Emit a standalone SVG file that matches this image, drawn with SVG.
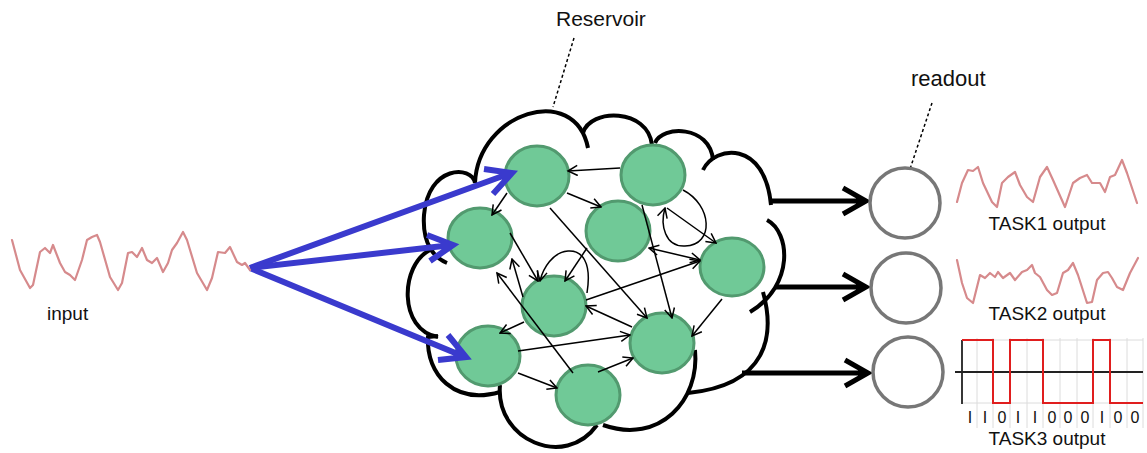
<svg xmlns="http://www.w3.org/2000/svg" width="1147" height="453" viewBox="0 0 1147 453">
<style>
.txt{font-family:"Liberation Sans",Arial,sans-serif;fill:#111}
.cloud{fill:none;stroke:#000;stroke-width:4;stroke-linecap:butt}
.node{fill:#70c997;stroke:#529a6f;stroke-width:3}
.edge{fill:none;stroke:#000;stroke-width:1.5}
.blue{fill:none;stroke:#3a3acd;stroke-width:6;stroke-linejoin:miter}
.thick{fill:none;stroke:#000;stroke-width:5}
.ro{fill:#fff;stroke:#777;stroke-width:3.5}
.wave{fill:none;stroke:#d68a8c;stroke-width:2.2;stroke-linejoin:round;stroke-linecap:round}
.dot{fill:none;stroke:#000;stroke-width:1.5;stroke-dasharray:3 2.5}
.grid{stroke:#dcdcdc;stroke-width:1}
</style>
<defs>
<marker id="arr" viewBox="0 0 12 12" refX="10.5" refY="6" markerWidth="12" markerHeight="12" markerUnits="userSpaceOnUse" orient="auto-start-reverse">
<path d="M1,1 L10.5,6 L1,11" fill="none" stroke="#000" stroke-width="1.5"/>
</marker>
</defs>
<rect width="1147" height="453" fill="#fff"/>

<g id="labels">
<text class="txt" x="556" y="26" font-size="21">Reservoir</text>
<text class="txt" x="911" y="86" font-size="22">readout</text>
<text class="txt" x="47" y="320" font-size="19">input</text>
<text class="txt" x="1047" y="230" font-size="19" text-anchor="middle">TASK1 output</text>
<text class="txt" x="1047" y="320" font-size="19" text-anchor="middle">TASK2 output</text>
<text class="txt" x="1047" y="445" font-size="19" text-anchor="middle">TASK3 output</text>
<path class="dot" d="M574,38 L553,107"/>
<path class="dot" d="M932,103 L909,172"/>
</g>

<g id="cloud">
<path class="cloud" d="M475,183 C478,112 575,82 588,148"/>
<path class="cloud" d="M583,133 C590,108 648,108 652,145"/>
<path class="cloud" d="M655,143 C662,125 710,125 713,160"/>
<path class="cloud" d="M703,170 C715,145 765,140 771,205"/>
<path class="cloud" d="M767,220 C790,232 795,285 750,312"/>
<path class="cloud" d="M763,292 C775,335 768,385 688,393"/>
<path class="cloud" d="M695,350 C700,400 660,445 603,425"/>
<path class="cloud" d="M500,385 C495,440 565,470 597,425"/>
<path class="cloud" d="M438,336 L428,337 C426,375 455,405 500,392"/>
<path class="cloud" d="M430,250 C400,265 398,330 438,337"/>
<path class="cloud" d="M475,183 C472,165 428,165 424,215 C422,245 435,258 447,263"/>
</g>

<g id="n1"><ellipse class="node" cx="537" cy="176" rx="32" ry="30"/></g>
<g id="n2"><ellipse class="node" cx="653" cy="175" rx="32" ry="30"/></g>
<g id="n3"><ellipse class="node" cx="480" cy="238" rx="32" ry="30"/></g>
<g id="n4"><ellipse class="node" cx="618" cy="231" rx="32" ry="30"/></g>
<g id="n5"><ellipse class="node" cx="732" cy="267" rx="32" ry="29"/></g>
<g id="n6"><ellipse class="node" cx="554" cy="306" rx="32" ry="30"/></g>
<g id="n7"><ellipse class="node" cx="488" cy="356" rx="32" ry="30"/></g>
<g id="n8"><ellipse class="node" cx="662" cy="343" rx="32" ry="30"/></g>
<g id="n9"><ellipse class="node" cx="588" cy="395" rx="32" ry="30"/></g>

<g id="connectors">
<path class="edge" marker-end="url(#arr)" d="M620,168 L568,171"/>
<path class="edge" marker-end="url(#arr)" d="M507,193 L492,215"/>
<path class="edge" marker-end="url(#arr)" d="M567,193 L601,207"/>
<path class="edge" marker-end="url(#arr)" d="M550,208 L647,318"/>
<path class="edge" marker-end="url(#arr)" d="M510,233 L538,281"/>
<path class="edge" marker-end="url(#arr)" d="M523,297 L512,259"/>
<path class="edge" marker-end="url(#arr)" d="M573,373 L497,273"/>
<path class="edge" marker-end="url(#arr)" d="M524,322 L500,333"/>
<path class="edge" marker-end="url(#arr)" d="M518,351 L630,335"/>
<path class="edge" marker-end="url(#arr)" d="M518,373 L557,388"/>
<path class="edge" marker-end="url(#arr)" d="M598,372 L633,358"/>
<path class="edge" marker-end="url(#arr)" d="M587,293 C592,262 582,250 568,251 C553,252 543,268 540,281"/>
<path class="edge" marker-end="url(#arr)" d="M587,248 L565,281"/>
<path class="edge" marker-end="url(#arr)" d="M586,300 L700,261"/>
<path class="edge" marker-end="url(#arr)" d="M632,327 L586,306"/>
<path class="edge" marker-end="url(#arr)" d="M642,205 L672,318"/>
<path class="edge" marker-start="url(#arr)" marker-end="url(#arr)" d="M649,248 L700,260"/>
<path class="edge" marker-end="url(#arr)" d="M667,208 L716,243"/>
<path class="edge" marker-end="url(#arr)" d="M683,190 C712,205 715,245 685,246 C665,247 660,225 665,208"/>
<path class="edge" marker-end="url(#arr)" d="M722,299 L692,336"/>
<path class="blue" d="M250,268 L511,173 M484,169 L512,173 L493,194"/>
<path class="blue" d="M250,268 L452,245 M427,235 L453,245 L430,261"/>
<path class="blue" d="M250,268 L465,357 M448,335 L466,357 L438,360"/>
<path class="thick" d="M772,201 L865,201 M843,188 L866,201 L843,214"/>
<path class="thick" d="M775,287 L865,287 M843,274 L866,287 L843,300"/>
<path class="thick" d="M742,373 L867,373 M845,360 L868,373 L845,386"/>
</g>

<g id="readout1"><circle class="ro" cx="905" cy="203" r="35"/></g>
<g id="readout2"><circle class="ro" cx="906" cy="288" r="35"/></g>
<g id="readout3"><circle class="ro" cx="908" cy="372" r="35"/></g>

<g id="signals">
<polyline class="wave" points="12,240 20,270 30,288 33,285 40,252 45,248 50,253 53,245 60,263 65,272 70,275 75,280 82,260 87,240 92,237 97,235 100,242 110,277 118,290 122,283 128,253 132,252 137,257 142,248 147,260 152,263 157,258 163,272 168,263 172,250 177,243 183,232 187,240 197,273 207,290 212,278 218,252 225,253 230,247 237,262 242,265 245,263 250,270"/>
<polyline class="wave" points="957,202 962,183 968,170 973,171 978,167 983,183 992,202 997,207 1002,183 1008,177 1015,172 1020,185 1027,197 1033,202 1040,177 1047,167 1053,180 1065,207 1073,183 1080,178 1087,175 1092,183 1100,183 1105,192 1110,177 1115,175 1122,160 1127,173 1137,203"/>
<polyline class="wave" points="957,260 962,283 967,298 973,303 980,275 985,278 990,273 995,277 998,272 1003,278 1010,273 1015,280 1022,272 1027,270 1032,265 1035,273 1040,277 1047,290 1052,295 1057,293 1063,273 1068,270 1073,263 1078,275 1087,303 1092,302 1097,280 1103,273 1108,272 1112,278 1117,287 1123,290 1130,273 1138,258"/>
<g id="task3">
<path class="grid" d="M977,338 V428 M993,338 V428 M1010,338 V428 M1027,338 V428 M1043,338 V428 M1060,338 V428 M1077,338 V428 M1093,338 V428 M1110,338 V428 M1127,338 V428 M1143,338 V428 M962,403 H1143 M962,340 H1143"/>
<path d="M955,372 H1143 M962,340 V404" stroke="#222" stroke-width="1.8" fill="none"/>
<path d="M962,340 H993 V403 H1010 V340 H1043 V403 H1093 V340 H1110 V403 H1143" stroke="#e01e1e" stroke-width="2" fill="none"/>
<g class="txt" font-size="16" text-anchor="middle">
<text x="970" y="423">I</text><text x="985" y="423">I</text><text x="1002" y="423">0</text><text x="1018" y="423">I</text><text x="1035" y="423">I</text><text x="1052" y="423">0</text><text x="1068" y="423">0</text><text x="1085" y="423">0</text><text x="1102" y="423">I</text><text x="1118" y="423">0</text><text x="1135" y="423">0</text>
</g>
</g>
</g>
</svg>
